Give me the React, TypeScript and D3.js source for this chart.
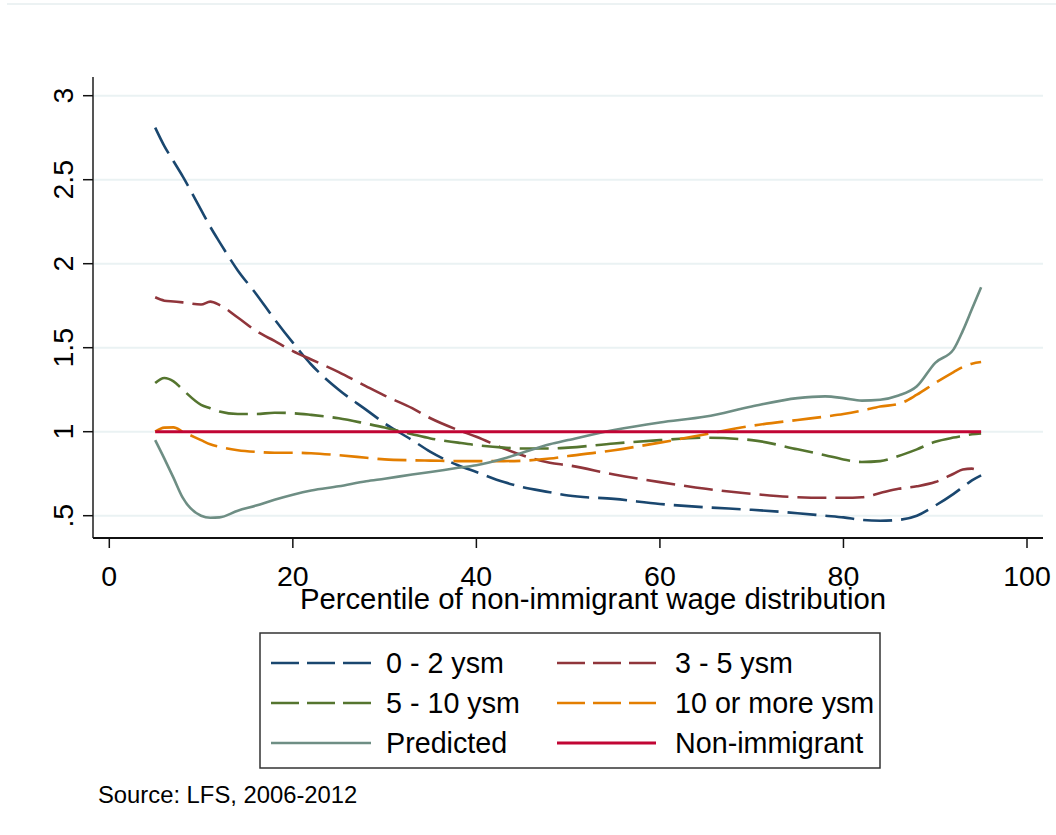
import React from "react";
import * as d3 from "d3";

const xs = [5, 6, 7, 8, 10, 11, 12, 14, 16, 18, 20, 22, 25, 28, 30, 33, 35, 38, 40, 43, 45, 48, 50, 55, 60, 65, 70, 75, 78, 80, 82, 84, 86, 88, 90, 92, 93, 94, 95];

const ysm0to2 = [2.81, 2.70, 2.61, 2.52, 2.32, 2.22, 2.13, 1.96, 1.82, 1.67, 1.53, 1.40, 1.25, 1.13, 1.05, 0.95, 0.88, 0.80, 0.76, 0.70, 0.67, 0.64, 0.62, 0.60, 0.57, 0.55, 0.535, 0.515, 0.50, 0.49, 0.475, 0.47, 0.475, 0.50, 0.56, 0.63, 0.67, 0.71, 0.74];
const ysm3to5 = [1.80, 1.78, 1.775, 1.77, 1.757, 1.774, 1.755, 1.68, 1.60, 1.54, 1.48, 1.43, 1.355, 1.27, 1.215, 1.14, 1.08, 1.01, 0.97, 0.90, 0.86, 0.815, 0.80, 0.745, 0.70, 0.66, 0.63, 0.61, 0.607, 0.607, 0.61, 0.635, 0.66, 0.675, 0.70, 0.75, 0.775, 0.78, 0.755];
const ysm5to10 = [1.29, 1.32, 1.30, 1.25, 1.16, 1.14, 1.12, 1.105, 1.105, 1.113, 1.11, 1.10, 1.08, 1.048, 1.025, 0.985, 0.96, 0.935, 0.92, 0.905, 0.90, 0.90, 0.905, 0.93, 0.95, 0.964, 0.95, 0.895, 0.86, 0.835, 0.82, 0.825, 0.855, 0.895, 0.94, 0.965, 0.975, 0.985, 0.99];
const ysm10plus = [1.00, 1.024, 1.026, 1.00, 0.95, 0.925, 0.91, 0.89, 0.88, 0.875, 0.875, 0.872, 0.86, 0.845, 0.835, 0.83, 0.828, 0.825, 0.825, 0.825, 0.827, 0.84, 0.855, 0.89, 0.935, 0.985, 1.035, 1.07, 1.09, 1.105, 1.125, 1.15, 1.165, 1.22, 1.29, 1.355, 1.385, 1.405, 1.415];
const predicted = [0.95, 0.84, 0.725, 0.607, 0.50, 0.488, 0.49, 0.53, 0.56, 0.595, 0.625, 0.65, 0.675, 0.705, 0.72, 0.745, 0.76, 0.785, 0.80, 0.84, 0.875, 0.925, 0.95, 1.01, 1.055, 1.09, 1.15, 1.20, 1.21, 1.20, 1.185, 1.19, 1.215, 1.27, 1.41, 1.49, 1.60, 1.73, 1.86];
const nonImmX = [5, 95];
const nonImmigrant = [1, 1];

const xTicks = [0, 20, 40, 60, 80, 100];
const yTicks = [0.5, 1, 1.5, 2, 2.5, 3];
const yTickLabels = [".5", "1", "1.5", "2", "2.5", "3"];

const seriesNames = ["0 - 2 ysm", "3 - 5 ysm", "5 - 10 ysm", "10 or more ysm", "Predicted", "Non-immigrant"];
const seriesColors = ["#1a476f", "#90353b", "#55752f", "#e37e00", "#6e8e84", "#c10534"];
const seriesDashed = [true, true, true, true, false, false];

const FONT = "'Liberation Sans', Arial, Helvetica, sans-serif";

export default function App() {
  const x = d3.scaleLinear().domain([0, 100]).range([109.3, 1027]);
  const y = d3.scaleLinear().domain([0.5, 3]).range([515.7, 95.7]);
  const line = d3
    .line<[number, number]>()
    .x((d) => x(d[0]))
    .y((d) => y(d[1]))
    .curve(d3.curveMonotoneX);

  const seriesData: [number, number][][] = [
    xs.map((v, i) => [v, ysm0to2[i]] as [number, number]),
    xs.map((v, i) => [v, ysm3to5[i]] as [number, number]),
    xs.map((v, i) => [v, ysm5to10[i]] as [number, number]),
    xs.map((v, i) => [v, ysm10plus[i]] as [number, number]),
    xs.map((v, i) => [v, predicted[i]] as [number, number]),
    nonImmX.map((v, i) => [v, nonImmigrant[i]] as [number, number]),
  ];

  const plotLeft = 93;
  const plotRight = 1043;
  const axisY = 538;

  const legendColX = [
    { k0: 271, k1: 371, t: 386 },
    { k0: 557, k1: 656, t: 675 },
  ];
  const legendRowY = [663, 703, 743];

  return (
    <svg
      width={1056}
      height={835}
      style={{ position: "absolute", left: 0, top: 0, background: "#fff" }}
      fontFamily={FONT}
    >
      <rect x={0} y={0} width={1056} height={835} fill="#ffffff" />
      <line x1={7} x2={1056} y1={4} y2={4} stroke="#e6eeef" strokeWidth={1.5} />
      {yTicks.map((t) => (
        <line key={"g" + t} x1={plotLeft} x2={plotRight} y1={y(t)} y2={y(t)} stroke="#eaf2f3" strokeWidth={2} />
      ))}
      <line x1={plotLeft} x2={plotLeft} y1={77} y2={axisY} stroke="#555" strokeWidth={2} />
      <line x1={plotLeft} x2={plotRight} y1={axisY} y2={axisY} stroke="#111" strokeWidth={2} />
      {yTicks.map((t, i) => (
        <g key={"yt" + t}>
          <line x1={83} x2={plotLeft} y1={y(t)} y2={y(t)} stroke="#111" strokeWidth={1.5} />
          <text
            transform={`translate(73,${y(t)}) rotate(-90)`}
            textAnchor="middle"
            fontSize={28.5}
            fill="#000"
          >
            {yTickLabels[i]}
          </text>
        </g>
      ))}
      {xTicks.map((t) => (
        <g key={"xt" + t}>
          <line x1={x(t)} x2={x(t)} y1={axisY} y2={548} stroke="#111" strokeWidth={1.5} />
          <text x={x(t)} y={586} textAnchor="middle" fontSize={28.5} fill="#000">
            {t}
          </text>
        </g>
      ))}
      <text x={593} y={609} textAnchor="middle" fontSize={29.3} fill="#000">
        Percentile of non-immigrant wage distribution
      </text>
      {seriesData.map((d, i) => (
        <path
          key={"s" + i}
          d={line(d) || ""}
          fill="none"
          stroke={seriesColors[i]}
          strokeWidth={i === 5 ? 3 : 2.6}
          strokeDasharray={seriesDashed[i] ? "29,9" : undefined}
        />
      ))}
      <rect x={260} y={633} width={620} height={135} fill="#fff" stroke="#333" strokeWidth={1.5} />
      {seriesNames.map((name, i) => {
        const col = legendColX[i % 2];
        const ry = legendRowY[Math.floor(i / 2)];
        return (
          <g key={"l" + i}>
            <line
              x1={col.k0}
              x2={col.k1}
              y1={ry}
              y2={ry}
              stroke={seriesColors[i]}
              strokeWidth={i === 5 ? 3 : 2.6}
              strokeDasharray={seriesDashed[i] ? "28,8" : undefined}
            />
            <text x={col.t} y={ry + 10} fontSize={28.7} fill="#000">
              {name}
            </text>
          </g>
        );
      })}
      <text x={98} y={803} fontSize={23.8} fill="#000">
        Source: LFS, 2006-2012
      </text>
    </svg>
  );
}
